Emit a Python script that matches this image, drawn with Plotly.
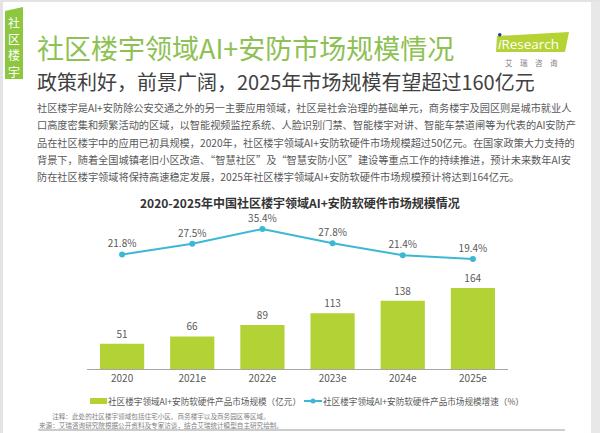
import plotly.graph_objects as go

# ---------------- data ----------------
years = ["2020", "2021e", "2022e", "2023e", "2024e", "2025e"]
market_size = [51, 66, 89, 113, 138, 164]          # 亿元
growth_rate = [21.8, 27.5, 35.4, 27.8, 21.4, 19.4]  # %
growth_labels = [f"{v}%" for v in growth_rate]

bar_name = "社区楼宇领域AI+安防软硬件产品市场规模（亿元）"
line_name = "社区楼宇领域AI+安防软硬件产品市场规模增速（%）"

title_text = "社区楼宇领域AI+安防市场规模情况"
subtitle_text = "政策利好，前景广阔，2025年市场规模有望超过160亿元"
chart_title = "<b>2020-2025年中国社区楼宇领域AI+安防软硬件市场规模情况</b>"
paragraph = [
    "社区楼宇是AI+安防除公安交通之外的另一主要应用领域，社区是社会治理的基础单元，商务楼宇及园区则是城市就业人",
    "口高度密集和频繁活动的区域，以智能视频监控系统、人脸识别门禁、智能楼宇对讲、智能车禁道闸等为代表的AI安防产",
    "品在社区楼宇中的应用已初具规模，2020年，社区楼宇领域AI+安防软硬件市场规模超过50亿元。在国家政策大力支持的",
    "背景下，随着全国城镇老旧小区改造、“智慧社区”及“智慧安防小区”建设等重点工作的持续推进，预计未来数年AI安",
    "防在社区楼宇领域将保持高速稳定发展，2025年社区楼宇领域AI+安防软硬件市场规模预计将达到164亿元。",
]
notes = [
    "注释：此处的社区楼宇领域包括住宅小区、商务楼宇以及商务园区等区域。",
    "来源：艾瑞咨询研究院根据公开资料及专家访谈，结合艾瑞统计模型自主研究绘制。",
]

# ---------------- layout geometry ----------------
W, H = 600, 433
L, R, T, B = 87, 92, 210, 64
PW, PH = W - L - R, H - T - B
FONT = "Noto Sans CJK SC, Noto Sans, sans-serif"

def px(x):
    return (x - L) / PW

def py(y):
    return (H - B - y) / PH

BAR_GREEN = "#b3d236"
LINE_BLUE = "#3db8d4"
TITLE_GREEN = "#8dc153"
GRAY = "#595959"

fig = go.Figure()
fig.add_trace(go.Bar(
    x=years, y=market_size, name=bar_name,
    marker=dict(color=BAR_GREEN, line=dict(width=0)),
    width=0.63,
    text=[str(v) for v in market_size], textposition="outside",
    textfont=dict(size=10, color=GRAY, family=FONT),
    cliponaxis=False,
    yaxis="y",
))
fig.add_trace(go.Scatter(
    x=years, y=growth_rate, name=line_name, mode="lines+markers+text",
    line=dict(color=LINE_BLUE, width=2),
    marker=dict(color=LINE_BLUE, size=6),
    text=growth_labels, textposition="top center",
    textfont=dict(size=10, color=GRAY, family=FONT),
    cliponaxis=False,
    yaxis="y2",
))

shapes = []
annotations = []

def ann(text, x, y, size, color, xanchor="left", family=FONT):
    annotations.append(dict(text=text, x=px(x), y=py(y), xref="paper", yref="paper",
                            showarrow=False, xanchor=xanchor, yanchor="middle",
                            font=dict(size=size, color=color, family=family)))

def path(points):
    return "M " + " L ".join(f"{px(x):.5f},{py(y):.5f}" for x, y in points) + " Z"

# page border (grey frame)
shapes.append(dict(type="rect", xref="paper", yref="paper", x0=px(0), x1=px(3), y0=py(433), y1=py(0),
                   fillcolor="#e3e3e3", line=dict(width=0), layer="below"))
shapes.append(dict(type="rect", xref="paper", yref="paper", x0=px(591), x1=px(600), y0=py(433), y1=py(0),
                   fillcolor="#e8e8e8", line=dict(width=0), layer="below"))
shapes.append(dict(type="rect", xref="paper", yref="paper", x0=px(0), x1=px(600), y0=py(2), y1=py(0),
                   fillcolor="#e3e3e3", line=dict(width=0), layer="below"))

# left green tab
shapes.append(dict(type="path", xref="paper", yref="paper",
                   path=path([(5, 11), (23, 7), (23, 79), (5, 79)]),
                   fillcolor="#8dc63f", line=dict(width=0)))
for i, ch in enumerate("社区楼宇"):
    ann(ch, 14, 22.5 + i * 16.2, 12, "white", xanchor="center")

# main title + subtitle
ann(title_text, 35, 48, 27, TITLE_GREEN)
ann(subtitle_text, 35, 81, 20, "#404040")

# iResearch logo
shapes.append(dict(type="path", xref="paper", yref="paper",
                   path=path([(497, 36), (569, 32), (565, 52), (496, 52)]),
                   fillcolor="#b5d334", line=dict(width=0)))
ann("<i>i</i>Research", 496, 44, 13.5, "white", family="Open Sans, sans-serif")
shapes.append(dict(type="circle", xref="paper", yref="paper",
                   x0=px(498), x1=px(501.5), y0=py(36.5), y1=py(33),
                   fillcolor="#1f3c88", line=dict(width=0)))
ann("艾　瑞　咨　询", 531, 62, 7.5, "#808080", xanchor="center")

# paragraph
for i, line in enumerate(paragraph):
    ann(line, 35, 108 + i * 17, 10.2, "#595959")

# chart title
ann(chart_title, 300, 202, 12, "#333333", xanchor="center")

# legend (drawn manually so it stays on one row)
shapes.append(dict(type="rect", xref="paper", yref="paper", x0=px(90), x1=px(107), y0=py(404), y1=py(398),
                   fillcolor=BAR_GREEN, line=dict(width=0)))
ann(bar_name, 106, 401, 8.6, GRAY)
shapes.append(dict(type="line", xref="paper", yref="paper", x0=px(304), x1=px(322), y0=py(401), y1=py(401),
                   line=dict(color=LINE_BLUE, width=2)))
shapes.append(dict(type="circle", xref="paper", yref="paper", x0=px(310.5), x1=px(315.5),
                   y0=py(403.5), y1=py(398.5), fillcolor=LINE_BLUE, line=dict(width=0)))
ann(line_name, 321, 401, 8.6, GRAY)

# notes
ann("<br>".join(notes), 37, 420.5, 6.6, "#7f7f7f")
shapes.append(dict(type="line", xref="paper", yref="paper", x0=px(38), x1=px(565), y0=py(430), y1=py(430),
                   line=dict(color="#9a9a9a", width=1)))

fig.update_layout(
    width=W, height=H,
    margin=dict(l=L, r=R, t=T, b=B, pad=0, autoexpand=False),
    paper_bgcolor="white", plot_bgcolor="white",
    font=dict(family=FONT, size=10, color=GRAY),
    bargap=0.37,
    showlegend=False,
    xaxis=dict(showgrid=False, showline=True, linecolor="#a6a6a6", linewidth=1, ticks="",
               tickfont=dict(size=10, color=GRAY, family=FONT), fixedrange=True, zeroline=False),
    yaxis=dict(range=[0, 322], visible=False, showgrid=False, zeroline=False),
    yaxis2=dict(range=[-39.27, 45.53], overlaying="y", visible=False, showgrid=False, zeroline=False),
    shapes=shapes,
    annotations=annotations,
)

fig.write_html("out.html", config={"displayModeBar": False},
               post_script="document.body.style.margin='0';document.body.style.overflow='hidden';")
